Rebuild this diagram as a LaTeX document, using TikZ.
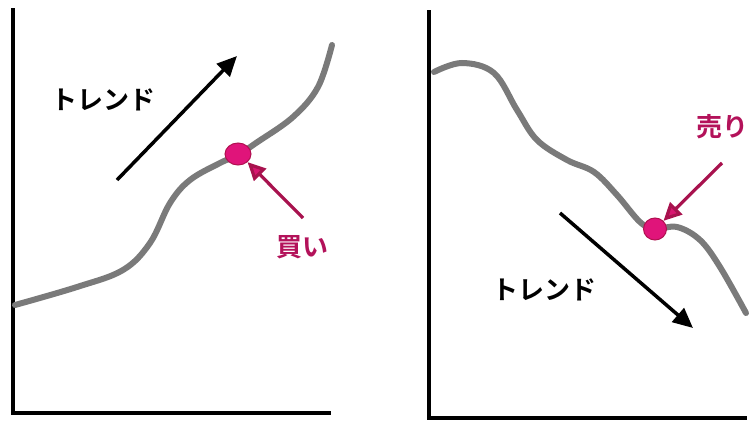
\documentclass[tikz,border=0pt]{standalone}
\usepackage{fontspec}
\newfontfamily\jp{Noto Sans CJK JP}[BoldFont={Noto Sans CJK JP Bold}]
\usetikzlibrary{arrows.meta,shapes.geometric}
\definecolor{curvegray}{HTML}{7A7A7A}
\definecolor{dotpink}{HTML}{E0147A}
\definecolor{dotedge}{HTML}{B0104F}
\definecolor{arrowpink}{HTML}{A8124E}
\definecolor{headpink}{HTML}{D81670}
\definecolor{labelpink}{HTML}{B3125A}
\tikzset{
  axis/.style={line width=3.5pt},
  curve/.style={curvegray, line width=6pt, line cap=round},
  trendarrow/.style={line width=3.5pt, -{Triangle[length=20pt,width=18pt]}},
  pinkarrow/.style={arrowpink, line width=3.2pt, -{Triangle[length=18pt,width=17pt,fill=headpink]}},
  dot/.style={ellipse, fill=dotpink, draw=dotedge, line width=1pt, inner sep=0pt},
  trendlabel/.style={font=\jp\bfseries\fontsize{26}{28}\selectfont, inner sep=0pt},
  pinklabel/.style={font=\jp\bfseries\fontsize{26}{28}\selectfont, text=labelpink, inner sep=0pt}
}
\begin{document}
\begin{tikzpicture}[x=1pt,y=-1pt]
\useasboundingbox (0,0) rectangle (753,431);
% left panel
\draw[axis] (13,8) -- (13,413) -- (331,413);
\draw[curve] plot[smooth, tension=0.6] coordinates {(15,305) (77,287) (123,270) (150,243) (170,203) (190,180) (220,163) (238,155) (256,143) (293,117) (318,87) (332,45)};
\node[dot, minimum width=26pt, minimum height=22pt] (buydot) at (238,154) {};
\coordinate (tu1) at (117,180);
\coordinate (tu2) at (237,56);
\draw[trendarrow] (tu1) -- (tu2);
\node[trendlabel] (trend1) at (103,100) {トレンド};
\coordinate (bp1) at (303,218);
\draw[pinkarrow] (bp1) -- (buydot.south east);
\node[pinklabel] (buy) at (302,247) {買い};
% right panel
\draw[axis] (429,10) -- (429,418) -- (747,418);
\draw[curve] plot[smooth, tension=0.6] coordinates {(434,72) (462,63) (494,73) (517,110) (537,140) (567,160) (594,172) (617,195) (640,222) (655,229) (677,227) (700,240) (720,267) (746,313)};
\node[dot, minimum width=23pt, minimum height=22pt] (selldot) at (655,229) {};
\coordinate (td1) at (560,213);
\coordinate (td2) at (693,328);
\draw[trendarrow] (td1) -- (td2);
\node[trendlabel] (trend2) at (544,290) {トレンド};
\coordinate (sp1) at (722,163);
\draw[pinkarrow] (sp1) -- (selldot.north east);
\node[pinklabel] (sell) at (722,127) {売り};
\end{tikzpicture}
\end{document}
